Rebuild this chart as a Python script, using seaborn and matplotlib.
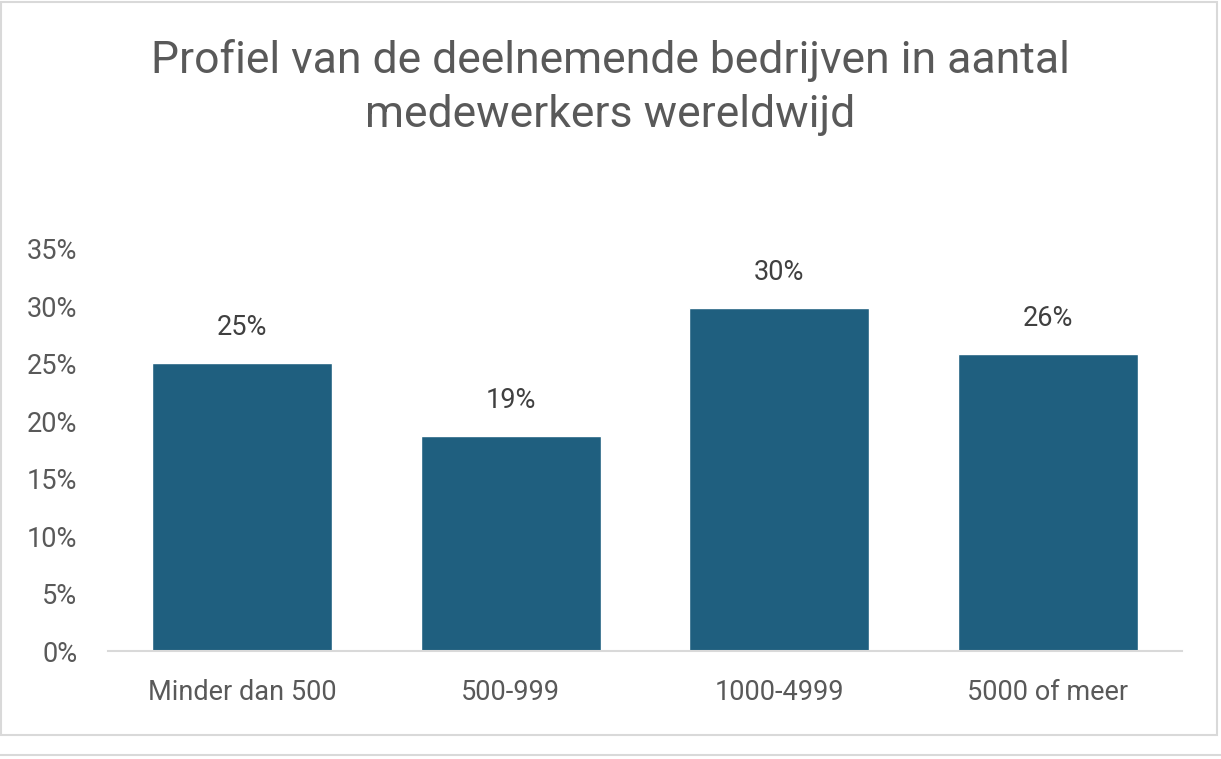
import numpy as np
import pandas as pd
import seaborn as sns
import matplotlib.pyplot as plt
from matplotlib.patches import Rectangle
from matplotlib.ticker import PercentFormatter

# data
categories = ['Minder dan 500', '500-999', '1000-4999', '5000 of meer']
shares = [0.251, 0.187, 0.299, 0.259]
labels = ['25%', '19%', '30%', '26%']

df = pd.DataFrame({'groep': categories, 'aandeel': shares})

sns.set_theme(style='white')
plt.rcParams['font.family'] = ['Roboto', 'DejaVu Sans']

fig = plt.figure(figsize=(12.21, 7.59), dpi=100)
ax = fig.add_axes([0.0885, 0.142, 0.8795, 0.530])

sns.barplot(data=df, x='groep', y='aandeel', color='#1F5F7F', width=0.67,
            saturation=1, ax=ax)

# value labels above bars
for i, bar in enumerate(ax.patches):
    ax.text(bar.get_x() + bar.get_width() / 2, bar.get_height() + 0.019,
            labels[i], ha='center', va='bottom', fontsize=19.5, color='#404040')

ax.set_xlim(-0.5, 3.5)
ax.set_ylim(0, 0.35)
ax.set_yticks(np.arange(0, 0.351, 0.05))
ax.yaxis.set_major_formatter(PercentFormatter(1.0, decimals=0))
ax.set_xlabel('')
ax.set_ylabel('')
ax.tick_params(axis='both', length=0, labelsize=19.5, labelcolor='#595959')
ax.tick_params(axis='x', pad=20)
ax.tick_params(axis='y', pad=22)

for side in ['top', 'right', 'left']:
    ax.spines[side].set_visible(False)
ax.spines['bottom'].set_color('#D9D9D9')
ax.spines['bottom'].set_linewidth(1.5)

fig.text(0.5, 0.885, 'Profiel van de deelnemende bedrijven in aantal\nmedewerkers wereldwijd',
         ha='center', va='center', fontsize=32, color='#595959', linespacing=1.35)

# chart frame
fig.patches.append(Rectangle((0.001, 0.032), 0.996, 0.966, transform=fig.transFigure,
                             fill=False, edgecolor='#D9D9D9', linewidth=1.5))
fig.lines.append(plt.Line2D([0, 1], [0.005, 0.005], transform=fig.transFigure,
                            color='#D9D9D9', linewidth=1.5))

fig.savefig('out.png', dpi=100)
